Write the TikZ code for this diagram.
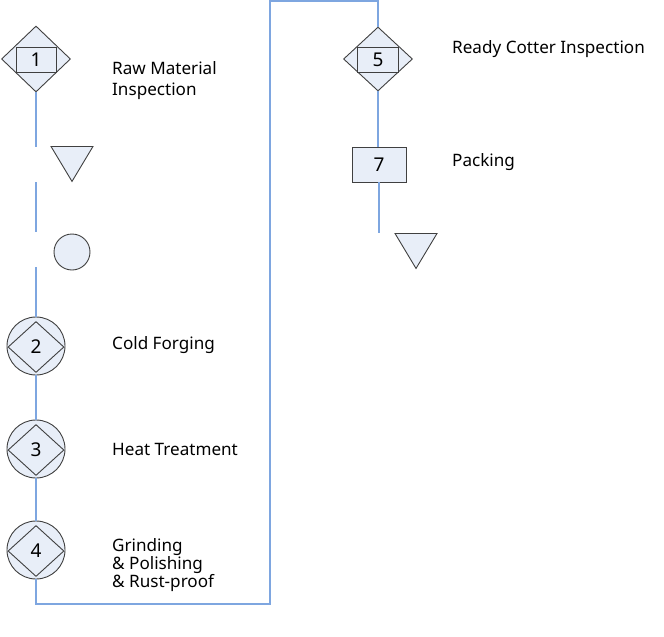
\documentclass[tikz,border=0pt]{standalone}
\usepackage{fontspec}
\setmainfont{Noto Sans}
\usetikzlibrary{shapes.geometric}
\definecolor{fillc}{HTML}{E8EEF8}
\definecolor{edgec}{HTML}{404040}
\definecolor{linec}{HTML}{7EA6E0}
\tikzset{
  conn/.style={draw=linec, line width=1.6pt},
  dia/.style={diamond, draw=edgec, fill=fillc, line width=0.9pt, inner sep=0pt},
  box/.style={rectangle, draw=edgec, fill=fillc, line width=0.9pt, inner sep=0pt, font=\fontsize{19}{19}\selectfont},
  circ/.style={circle, draw=edgec, fill=fillc, line width=0.9pt, inner sep=0pt},
  tri/.style={isosceles triangle, shape border rotate=-90, isosceles triangle stretches, draw=edgec, fill=fillc, line width=0.9pt, inner sep=0pt, minimum width=42pt, minimum height=35pt},
  lbl/.style={anchor=west, align=left, font=\fontsize{17.1}{21}\selectfont, inner sep=0pt},
  num/.style={font=\fontsize{19}{19}\selectfont}
}
\begin{document}
\begin{tikzpicture}[x=1pt,y=-1pt]
\useasboundingbox (0,0) rectangle (664,637);
% left column
\node[dia, minimum width=69pt, minimum height=66pt] (d1) at (36,59) {};
\node[box, minimum width=40pt, minimum height=25pt] (b1) at (36,59.5) {1};
\node[tri, anchor=north] (t1) at (72,146) {};
\node[circ, minimum size=36pt] (o1) at (72,252) {};
\node[circ, minimum size=58pt] (c2) at (36,346) {};
\node[dia, minimum width=56pt, minimum height=51pt] (i2) at (36,347) {};
\node[num] at (i2) {2};
\node[circ, minimum size=58pt] (c3) at (36,449) {};
\node[dia, minimum width=56pt, minimum height=51pt] (i3) at (36,450) {};
\node[num] at (i3) {3};
\node[circ, minimum size=58pt] (c4) at (36,550) {};
\node[dia, minimum width=56pt, minimum height=51pt] (i4) at (36,551) {};
\node[num] at (i4) {4};
% right column
\node[dia, minimum width=69pt, minimum height=64pt] (d5) at (378,59) {};
\node[box, minimum width=41pt, minimum height=25pt] (b5) at (378,59.5) {5};
\node[box, minimum width=54pt, minimum height=35pt] (b7) at (379,164.5) {7};
\node[tri, anchor=north] (t2) at (416,233) {};
% labels
\node[lbl] (l1) at (112,81) {Raw Material\\Inspection};
\node[lbl] (l2) at (112,345) {Cold Forging};
\node[lbl] (l3) at (112,449) {Heat Treatment};
\node[lbl, font=\fontsize{17.1}{17}\selectfont] (l4) at (112,565) {Grinding\\\& Polishing\\\& Rust-proof};
\node[lbl] (l5) at (452,49) {Ready Cotter Inspection};
\node[lbl] (l7) at (452,162) {Packing};
% connectors
\coordinate (g1) at (36,147);
\coordinate (g2) at (36,182);
\coordinate (g3) at (36,232);
\coordinate (g4) at (36,267);
\coordinate (k1) at (270,604);
\coordinate (k2) at (270,1);
\coordinate (e7) at (379,233);
\draw[conn] (d1.south) -- (g1);
\draw[conn] (g2) -- (g3);
\draw[conn] (g4) -- (c2.north);
\draw[conn] (c2.south) -- (c3.north);
\draw[conn] (c3.south) -- (c4.north);
\draw[conn] (c4.south) |- (k1) -- (k2) -| (d5.north);
\draw[conn] (d5.south) -- (b7.north -| d5.south);
\draw[conn] (b7.south) -- (e7);
\end{tikzpicture}
\end{document}
